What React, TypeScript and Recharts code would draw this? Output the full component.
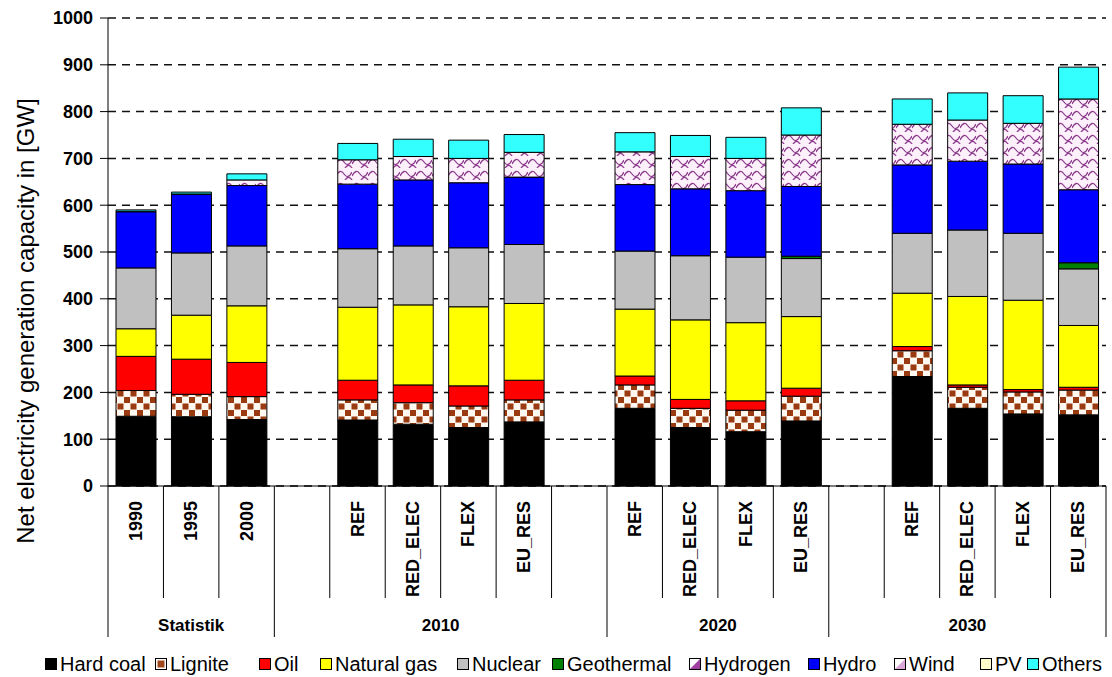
import { BarChart, Bar, XAxis, YAxis, CartesianGrid, Label } from 'recharts'

const FONT = 'Arial, "Liberation Sans", sans-serif'

const categories = [
  '1990', '1995', '2000', 'gap1',
  'REF 2010', 'RED_ELEC 2010', 'FLEX 2010', 'EU_RES 2010', 'gap2',
  'REF 2020', 'RED_ELEC 2020', 'FLEX 2020', 'EU_RES 2020', 'gap3',
  'REF 2030', 'RED_ELEC 2030', 'FLEX 2030', 'EU_RES 2030',
]
const tickLabels = [
  '1990', '1995', '2000', '',
  'REF', 'RED_ELEC', 'FLEX', 'EU_RES', '',
  'REF', 'RED_ELEC', 'FLEX', 'EU_RES', '',
  'REF', 'RED_ELEC', 'FLEX', 'EU_RES',
]
const groupNames = ['Statistik', '2010', '2020', '2030']
const groupFirst = [0, 3, 9, 13]
const groupLast = [2, 8, 12, 17]
const yTicks = [0, 100, 200, 300, 400, 500, 600, 700, 800, 900, 1000]

// GW per technology, gap columns are 0
const hardCoal = [149, 148, 142, 0, 141, 132, 125, 137, 0, 166, 125, 116, 139, 0, 234, 166, 154, 152]
const lignite = [55, 48, 49, 0, 43, 46, 46, 47, 0, 50, 41, 46, 53, 0, 55, 45, 47, 53]
const oil = [73, 75, 73, 0, 42, 38, 43, 42, 0, 19, 19, 20, 17, 0, 9, 5, 5, 6]
const naturalGas = [59, 94, 121, 0, 156, 171, 169, 164, 0, 143, 170, 167, 153, 0, 114, 189, 191, 132]
const nuclear = [130, 133, 128, 0, 125, 126, 126, 126, 0, 124, 137, 140, 124, 0, 128, 142, 143, 121]
const geothermal = [0, 0, 0, 0, 0, 0, 0, 0, 0, 0, 0, 0, 5, 0, 0, 0, 0, 13]
const hydrogen = [0, 0, 0, 0, 0, 0, 0, 0, 0, 0, 0, 0, 0, 0, 0, 0, 0, 0]
const hydro = [120, 125, 129, 0, 138, 141, 139, 144, 0, 142, 143, 142, 149, 0, 146, 147, 148, 156]
const wind = [1, 1, 12, 0, 52, 50, 52, 53, 0, 70, 69, 69, 110, 0, 87, 88, 87, 194]
const pv = [0, 0, 0, 0, 0, 0, 0, 0, 0, 0, 0, 0, 0, 0, 0, 0, 0, 0]
const others = [3, 4, 13, 0, 35, 37, 39, 38, 0, 41, 45, 45, 58, 0, 54, 58, 59, 68]

const series = [
  { key: 'hardCoal', name: 'Hard coal', values: hardCoal, fill: '#000000' },
  { key: 'lignite', name: 'Lignite', values: lignite, fill: 'url(#lignitePat)' },
  { key: 'oil', name: 'Oil', values: oil, fill: '#FF0000' },
  { key: 'naturalGas', name: 'Natural gas', values: naturalGas, fill: '#FFFF00' },
  { key: 'nuclear', name: 'Nuclear', values: nuclear, fill: '#C0C0C0' },
  { key: 'geothermal', name: 'Geothermal', values: geothermal, fill: '#008000' },
  { key: 'hydrogen', name: 'Hydrogen', values: hydrogen, fill: 'url(#hydrogenPat)' },
  { key: 'hydro', name: 'Hydro', values: hydro, fill: '#0000FF' },
  { key: 'wind', name: 'Wind', values: wind, fill: 'url(#windPat)' },
  { key: 'pv', name: 'PV', values: pv, fill: '#FFFFCC' },
  { key: 'others', name: 'Others', values: others, fill: '#33FFFF' },
]

const data = categories.map((cat, i) => {
  const row: Record<string, string | number> = { cat }
  series.forEach((s) => {
    row[s.key] = s.values[i]
  })
  return row
})

const AXIS_Y = 486
const SLOT = 998 / 18
const longSeps = [0, 3, 9, 13, 18]

function CategoryTick(props: any) {
  const { x, index } = props
  const left = x - SLOT / 2
  const right = x + SLOT / 2
  const g = groupFirst.indexOf(index)
  const label = tickLabels[index]
  return (
    <g>
      {index === 0 && <line x1={left} x2={left} y1={AXIS_Y} y2={637} stroke="#000" />}
      <line
        x1={right}
        x2={right}
        y1={AXIS_Y}
        y2={longSeps.includes(index + 1) ? 637 : 598}
        stroke="#000"
      />
      {label && (
        <text
          x={x}
          y={501}
          transform={`rotate(-90 ${x} 501)`}
          textAnchor="end"
          dominantBaseline="central"
          fontSize={18}
          fontWeight="bold"
          fontFamily={FONT}
          fill="#000"
        >
          {label}
        </text>
      )}
      {g >= 0 && (
        <text
          x={left + ((groupLast[g] - groupFirst[g] + 1) * SLOT) / 2}
          y={631}
          textAnchor="middle"
          fontSize={17}
          fontWeight="bold"
          fontFamily={FONT}
          fill="#000"
        >
          {groupNames[g]}
        </text>
      )}
    </g>
  )
}

function LegendIcon({ name, fill }: { name: string; fill: string }) {
  return (
    <svg width={12} height={12} style={{ display: 'block' }}>
      <rect x={0.5} y={0.5} width={11} height={11} fill="#fff" stroke="#000" />
      {name === 'Lignite' && <rect x={2.5} y={2.5} width={7} height={7} fill="#A0461C" />}
      {name === 'Hydrogen' && <path d="M11 1 L11 11 L1 11 Z" fill="#A040A0" />}
      {name === 'Wind' && <path d="M11 1 L11 11 L1 11 Z" fill="#D9A8D9" />}
      {name !== 'Lignite' && name !== 'Hydrogen' && name !== 'Wind' && (
        <rect x={1} y={1} width={10} height={10} fill={fill} />
      )}
    </svg>
  )
}

const legendX = [45, 155, 259, 320, 457, 552, 689, 808, 894, 980, 1027]

export default function App() {
  return (
    <div style={{ position: 'absolute', left: 0, top: 0, width: 1112, height: 677, background: '#fff' }}>
      <BarChart
        width={1112}
        height={677}
        data={data}
        margin={{ top: 18, right: 6, left: 0, bottom: 0 }}
      >
        <defs>
          <pattern id="lignitePat" width={13} height={13} patternUnits="userSpaceOnUse">
            <rect width={13} height={13} fill="#FFF8F0" />
            <rect x={0.5} y={0.5} width={6} height={6} fill="#993A10" />
            <rect x={7} y={7} width={6} height={6} fill="#993A10" />
          </pattern>
          <pattern id="windPat" width={16} height={12} patternUnits="userSpaceOnUse">
            <rect width={16} height={12} fill="#FCF0FA" />
            <path d="M0 8 Q4 0 8 6 Q12 12 16 4" fill="none" stroke="#8E3C8E" strokeWidth={1.3} />
            <path d="M-8 14 Q-4 6 0 12 M8 14 Q12 6 16 12" fill="none" stroke="#8E3C8E" strokeWidth={1.3} />
          </pattern>
          <pattern id="hydrogenPat" width={6} height={6} patternUnits="userSpaceOnUse">
            <rect width={6} height={6} fill="#fff" />
            <path d="M0 6 L6 0" stroke="#A040A0" />
          </pattern>
        </defs>
        <CartesianGrid vertical={false} stroke="#111" strokeDasharray="8 6" strokeWidth={1.5} />
        <XAxis
          dataKey="cat"
          height={191}
          interval={0}
          tickLine={false}
          axisLine={{ stroke: '#000' }}
          tick={<CategoryTick />}
        />
        <YAxis
          width={108}
          domain={[0, 1000]}
          ticks={yTicks}
          interval={0}
          tickSize={8}
          tickMargin={7}
          axisLine={{ stroke: '#000' }}
          tickLine={{ stroke: '#000' }}
          tick={{ fontSize: 18, fontWeight: 'bold', fill: '#000', fontFamily: FONT }}
        >
          <Label
            content={() => (
              <text
                x={25}
                y={321}
                transform="rotate(-90 25 321)"
                textAnchor="middle"
                dominantBaseline="central"
                fontSize={24}
                fontFamily={FONT}
                fill="#000"
              >
                Net electricity generation capacity in [GW]
              </text>
            )}
          />
        </YAxis>
        {series.map((s) => (
          <Bar
            key={s.key}
            dataKey={s.key}
            name={s.name}
            stackId="cap"
            fill={s.fill}
            stroke="#000"
            strokeWidth={1}
            barSize={40}
            isAnimationActive={false}
          />
        ))}
      </BarChart>
      {series.map((s, i) => (
        <div
          key={s.key}
          style={{
            position: 'absolute',
            left: legendX[i],
            top: 652,
            height: 24,
            display: 'flex',
            alignItems: 'center',
            gap: 3,
            fontFamily: FONT,
            fontSize: 20,
            color: '#000',
            whiteSpace: 'nowrap',
          }}
        >
          <LegendIcon name={s.name} fill={s.fill} />
          <span>{s.name}</span>
        </div>
      ))}
    </div>
  )
}
